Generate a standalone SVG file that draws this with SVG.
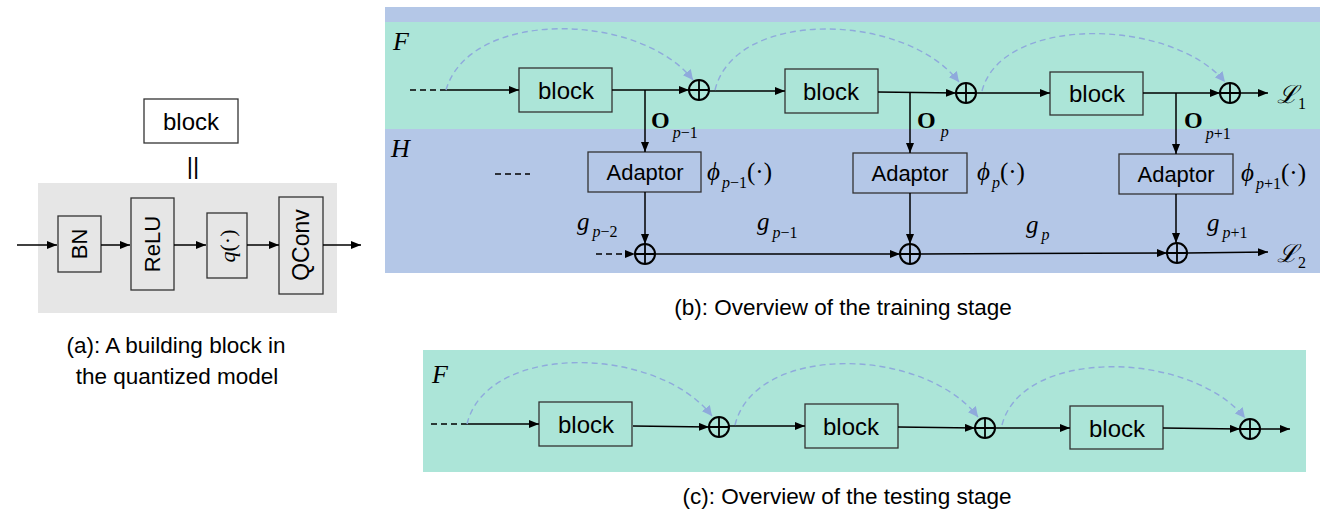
<svg xmlns="http://www.w3.org/2000/svg" width="1333" height="521" viewBox="0 0 1333 521">
<defs>
<marker id="ah" viewBox="0 0 10 8" refX="10" refY="4" markerWidth="10" markerHeight="8" markerUnits="userSpaceOnUse" orient="auto"><path d="M0,0 L10,4 L0,8 z" fill="#000"/></marker>
<marker id="ahb" viewBox="0 0 10 10" refX="10" refY="5" markerWidth="10" markerHeight="10" markerUnits="userSpaceOnUse" orient="auto"><path d="M0,0 L10,5 L0,10 z" fill="#8faadc"/></marker>
<symbol id="oplus" overflow="visible"><circle cx="0" cy="0" r="10" fill="none" stroke="#000" stroke-width="2"/><path d="M-10,0 H10 M0,-10 V10" stroke="#000" stroke-width="1.8"/></symbol>
</defs>
<style>
.box{fill:none;stroke:#333;stroke-width:1.3}
.lbl{font-family:"Liberation Sans",Arial,sans-serif;font-size:24px;fill:#000;text-anchor:middle;dominant-baseline:central}
.ad{font-size:22px}
.cap{font-family:"Liberation Sans",Arial,sans-serif;font-size:22.5px;fill:#000;text-anchor:middle}
.m{font-family:"Liberation Serif","Times New Roman",serif;font-style:italic;fill:#000}
.mb{font-family:"Liberation Serif","Times New Roman",serif;font-weight:bold;fill:#000}
.ln{stroke:#000;stroke-width:1.5;fill:none}
.ar{marker-end:url(#ah)}
.dsh{stroke-dasharray:6,4}
.arc{stroke:#8faadc;stroke-width:1.4;fill:none;stroke-dasharray:6,4;marker-end:url(#ahb)}
</style>

<!-- backgrounds -->
<rect x="38" y="183" width="299" height="130" fill="#e6e6e6"/>
<rect x="385" y="7" width="935" height="266" fill="#b4c7e7"/>
<rect x="385" y="22" width="935" height="107" fill="#ace5d8"/>
<rect x="423" y="350" width="883" height="122" fill="#ace5d8"/>

<!-- panel (a) -->
<g id="a-block"><rect class="box" x="144" y="99" width="94" height="44"/><text class="lbl" x="191" y="121">block</text></g>
<text x="193" y="165" font-family="Liberation Sans,sans-serif" font-size="24" text-anchor="middle" dominant-baseline="central">||</text>
<g id="a-bn"><rect class="box" x="58" y="216" width="43" height="56"/><text class="lbl" style="font-size:22px" transform="rotate(-90 79.5 244)" x="79.5" y="244">BN</text></g>
<g id="a-relu"><rect class="box" x="131" y="198" width="43" height="92"/><text class="lbl" style="font-size:22px" transform="rotate(-90 152.5 244)" x="152.5" y="244">ReLU</text></g>
<g id="a-q"><rect class="box" x="207" y="213" width="40" height="65"/><text class="m" font-size="22" text-anchor="middle" dominant-baseline="central" transform="rotate(-90 227 246)" x="227" y="246">q<tspan font-style="normal">(·)</tspan></text></g>
<g id="a-qconv"><rect class="box" x="279" y="197" width="44" height="97"/><text class="lbl" style="font-size:23px" transform="rotate(-90 301 245)" x="301" y="245">QConv</text></g>
<g id="a-conn">
<line class="ln ar" x1="17" y1="245" x2="57" y2="245"/>
<line class="ln ar" x1="101" y1="245" x2="130" y2="245"/>
<line class="ln ar" x1="174" y1="245" x2="206" y2="245"/>
<line class="ln ar" x1="247" y1="245" x2="279" y2="245"/>
<line class="ln ar" x1="323" y1="245" x2="361" y2="245"/>
</g>
<text class="cap" x="176" y="353">(a): A building block in</text>
<text class="cap" x="177" y="384">the quantized model</text>

<!-- panel (b) -->
<text class="m" x="393" y="50" font-size="26">F</text>
<text class="m" x="391" y="157" font-size="26">H</text>
<g id="b-block1"><rect class="box" x="519" y="68" width="93" height="44"/><text class="lbl" x="566" y="90">block</text></g>
<g id="b-block2"><rect class="box" x="785" y="69" width="93" height="44"/><text class="lbl" x="831" y="91">block</text></g>
<g id="b-block3"><rect class="box" x="1050" y="72" width="93" height="43"/><text class="lbl" x="1097" y="93">block</text></g>
<g id="b-adapt1"><rect class="box" x="588" y="152" width="113" height="40"/><text class="lbl ad" x="645" y="172">Adaptor</text></g>
<g id="b-adapt2"><rect class="box" x="853" y="153" width="114" height="40"/><text class="lbl ad" x="910" y="173">Adaptor</text></g>
<g id="b-adapt3"><rect class="box" x="1119" y="154" width="114" height="40"/><text class="lbl ad" x="1176" y="174">Adaptor</text></g>
<g id="b-sum1"><use href="#oplus" x="699" y="90"/></g>
<g id="b-sum2"><use href="#oplus" x="966" y="93"/></g>
<g id="b-sum3"><use href="#oplus" x="1230" y="93"/></g>
<g id="b-gsum1"><use href="#oplus" x="645" y="254"/></g>
<g id="b-gsum2"><use href="#oplus" x="910" y="254"/></g>
<g id="b-gsum3"><use href="#oplus" x="1177" y="253"/></g>

<g id="b-conn">
<line class="ln dsh" x1="410" y1="90" x2="443" y2="90"/>
<line class="ln ar" x1="443" y1="90" x2="519" y2="90"/>
<line class="ln ar" x1="612" y1="90" x2="689" y2="90"/>
<line class="ln ar" x1="645" y1="90" x2="645" y2="152"/>
<line class="ln ar" x1="709" y1="91" x2="785" y2="91"/>
<line class="ln ar" x1="878" y1="92" x2="956" y2="93"/>
<line class="ln ar" x1="910" y1="92" x2="910" y2="153"/>
<line class="ln ar" x1="976" y1="93" x2="1050" y2="93"/>
<line class="ln ar" x1="1143" y1="93" x2="1220" y2="93"/>
<line class="ln ar" x1="1176" y1="93" x2="1176" y2="154"/>
<line class="ln ar" x1="1240" y1="93" x2="1268" y2="93"/>
<line class="ln ar" x1="645" y1="192" x2="645" y2="244"/>
<line class="ln ar" x1="910" y1="193" x2="910" y2="244"/>
<line class="ln ar" x1="1176" y1="194" x2="1176" y2="243"/>
<line class="ln dsh" x1="495" y1="174" x2="530" y2="174"/>
<line class="ln dsh ar" x1="596" y1="254" x2="635" y2="254"/>
<line class="ln ar" x1="655" y1="254" x2="900" y2="254"/>
<line class="ln ar" x1="920" y1="254" x2="1167" y2="253"/>
<line class="ln ar" x1="1187" y1="253" x2="1268" y2="252"/>
<path class="arc" d="M446,90 C470,8 640,12 693,80"/>
<path class="arc" d="M715,90 C735,8 905,12 959,82"/>
<path class="arc" d="M982,91 C1002,14 1172,18 1225,82"/>
</g>

<g id="b-labels">
<text class="mb" x="651" y="128" font-size="24">O<tspan class="m" font-weight="normal" font-size="16" dx="3" dy="10">p</tspan><tspan font-family="Liberation Serif,serif" font-weight="normal" font-size="16" dy="0">−1</tspan></text>
<text class="mb" x="917" y="128" font-size="24">O<tspan class="m" font-weight="normal" font-size="16" dx="5" dy="9">p</tspan></text>
<text class="mb" x="1184" y="128" font-size="24">O<tspan class="m" font-weight="normal" font-size="16" dx="3" dy="11">p</tspan><tspan font-family="Liberation Serif,serif" font-weight="normal" font-size="16">+1</tspan></text>
<text class="m" x="707" y="180" font-size="25">ϕ<tspan font-size="16" dx="2" dy="8">p</tspan><tspan font-style="normal" font-size="16">−1</tspan><tspan font-style="normal" dy="-8">(·)</tspan></text>
<text class="m" x="977" y="180" font-size="25">ϕ<tspan font-size="16" dx="2" dy="8">p</tspan><tspan font-style="normal" dy="-8">(·)</tspan></text>
<text class="m" x="1241" y="181" font-size="25">ϕ<tspan font-size="16" dx="2" dy="8">p</tspan><tspan font-style="normal" font-size="16">+1</tspan><tspan font-style="normal" dy="-8">(·)</tspan></text>
<text class="m" x="577" y="230" font-size="25">g<tspan font-size="16" dx="3" dy="7">p</tspan><tspan font-style="normal" font-size="16">−2</tspan></text>
<text class="m" x="757" y="230" font-size="25">g<tspan font-size="16" dx="3" dy="8">p</tspan><tspan font-style="normal" font-size="16">−1</tspan></text>
<text class="m" x="1026" y="233" font-size="25">g<tspan font-size="16" dx="3" dy="7">p</tspan></text>
<text class="m" x="1207" y="231" font-size="25">g<tspan font-size="16" dx="3" dy="7">p</tspan><tspan font-style="normal" font-size="16">+1</tspan></text>
<text class="m" x="1277" y="103" font-size="25" font-family="DejaVu Serif,serif">ℒ<tspan font-style="normal" font-family="Liberation Serif,serif" font-size="16" dy="6">1</tspan></text>
<text class="m" x="1277" y="262" font-size="25" font-family="DejaVu Serif,serif">ℒ<tspan font-style="normal" font-family="Liberation Serif,serif" font-size="16" dy="6">2</tspan></text>
</g>
<text class="cap" x="843" y="315">(b): Overview of the training stage</text>

<!-- panel (c) -->
<text class="m" x="432" y="383" font-size="26">F</text>
<g id="c-block1"><rect class="box" x="539" y="402" width="93" height="44"/><text class="lbl" x="586" y="424">block</text></g>
<g id="c-block2"><rect class="box" x="805" y="404" width="93" height="44"/><text class="lbl" x="851" y="426">block</text></g>
<g id="c-block3"><rect class="box" x="1070" y="406" width="93" height="43"/><text class="lbl" x="1117" y="428">block</text></g>
<g id="c-sum1"><use href="#oplus" x="719" y="427"/></g>
<g id="c-sum2"><use href="#oplus" x="985" y="428"/></g>
<g id="c-sum3"><use href="#oplus" x="1250" y="429"/></g>
<g id="c-conn">
<line class="ln dsh" x1="431" y1="424" x2="463" y2="424"/>
<line class="ln ar" x1="463" y1="424" x2="539" y2="424"/>
<line class="ln ar" x1="633" y1="426" x2="709" y2="427"/>
<line class="ln ar" x1="729" y1="426" x2="805" y2="426"/>
<line class="ln ar" x1="898" y1="427" x2="975" y2="428"/>
<line class="ln ar" x1="995" y1="428" x2="1070" y2="428"/>
<line class="ln ar" x1="1163" y1="428" x2="1240" y2="429"/>
<line class="ln ar" x1="1260" y1="429" x2="1290" y2="429"/>
<path class="arc" d="M467,424 C487,342 657,345 712,416"/>
<path class="arc" d="M735,425 C755,343 923,346 978,417"/>
<path class="arc" d="M1002,425 C1022,347 1190,350 1245,418"/>
</g>
<text class="cap" x="847" y="504">(c): Overview of the testing stage</text>
</svg>
